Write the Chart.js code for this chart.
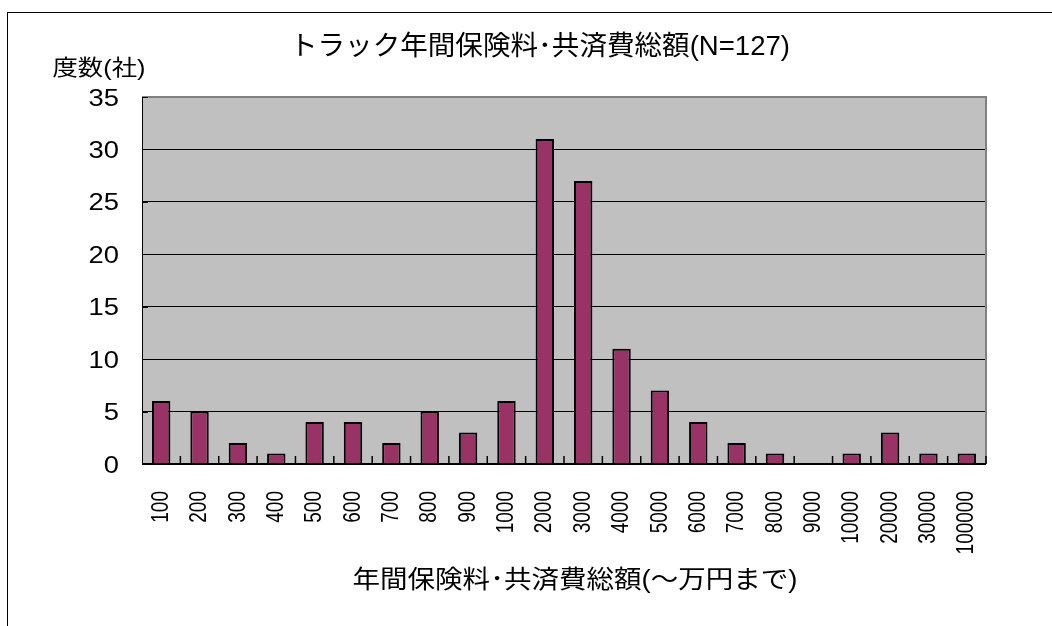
<!DOCTYPE html>
<html>
<head>
<meta charset="utf-8">
<script src="https://cdn.jsdelivr.net/npm/chart.js@4.4.1/dist/chart.umd.min.js"></script>
<style>
  html, body { margin: 0; padding: 0; background: #fff; }
  #wrap { position: relative; width: 1052px; height: 626px; overflow: hidden; }
  #frame { position: absolute; left: 7px; top: 12px; width: 1200px; height: 800px;
           border-left: 1px solid #000; border-top: 1px solid #000; }
  canvas { position: absolute; left: 0; top: 0; }
</style>
</head>
<body>
<div id="wrap">
  <div id="frame"></div>
  <canvas id="chart" width="1052" height="626"></canvas>
</div>
<script>
const categories = ['100', '200', '300', '400', '500', '600', '700', '800', '900', '1000',
  '2000', '3000', '4000', '5000', '6000', '7000', '8000', '9000', '10000', '20000', '30000', '100000']
const counts = [6, 5, 2, 1, 4, 4, 2, 5, 3, 6, 31, 27, 11, 7, 4, 2, 1, 0, 1, 3, 1, 1]
const yMax = 35
const yStep = 5

const chartTitle = 'トラック年間保険料･共済費総額(N=127)'
const yTitle = '度数(社)'
const xTitle = '年間保険料･共済費総額(～万円まで)'

const FONT = '"Liberation Sans", Arial, "Noto Sans CJK JP", sans-serif'

// text squeezed or widened horizontally to a given width, centred on (cx, cy)
function fitText(ctx, text, cx, cy, size, width) {
  ctx.save()
  ctx.font = size + 'px ' + FONT
  ctx.textAlign = 'center'
  ctx.textBaseline = 'middle'
  const sx = width / ctx.measureText(text).width
  ctx.translate(cx, cy)
  ctx.scale(sx, 1)
  ctx.fillText(text, 0, 0)
  ctx.restore()
}

const plotFrame = {
  id: 'plotFrame',
  beforeDraw(chart) {
    const { ctx, chartArea: a } = chart
    ctx.save()
    ctx.fillStyle = '#c0c0c0'
    ctx.fillRect(a.left, a.top, a.right - a.left, a.bottom - a.top)
    ctx.restore()
  },
  afterDatasetsDraw(chart) {
    const { ctx, chartArea: a } = chart
    const xs = chart.scales.x
    const ys = chart.scales.y
    ctx.save()
    // grey top/right edges, dark left edge
    ctx.strokeStyle = '#808080'
    ctx.lineWidth = 2
    ctx.beginPath()
    ctx.moveTo(a.left, a.top)
    ctx.lineTo(a.right, a.top)
    ctx.lineTo(a.right, a.bottom)
    ctx.stroke()
    ctx.strokeStyle = '#000'
    ctx.lineWidth = 1
    ctx.beginPath()
    ctx.moveTo(a.left + 0.5, a.top)
    ctx.lineTo(a.left + 0.5, a.bottom)
    ctx.stroke()
    // small inside ticks on the value axis
    ys.ticks.forEach((t, i) => {
      const y = Math.round(ys.getPixelForTick(i)) + 0.5
      ctx.beginPath()
      ctx.moveTo(a.left, y)
      ctx.lineTo(a.left + 6, y)
      ctx.stroke()
    })
    // category axis line with ticks between the categories
    ctx.lineWidth = 2
    ctx.beginPath()
    ctx.moveTo(a.left, ys.getPixelForValue(0))
    ctx.lineTo(a.right, ys.getPixelForValue(0))
    ctx.stroke()
    ctx.lineWidth = 1.5
    for (let i = 1; i <= categories.length; i++) {
      const x = i < categories.length
        ? (xs.getPixelForValue(i - 1) + xs.getPixelForValue(i)) / 2
        : a.right
      ctx.beginPath()
      ctx.moveTo(x, a.bottom)
      ctx.lineTo(x, a.bottom - 8)
      ctx.stroke()
    }
    ctx.restore()
  },
  afterDraw(chart) {
    const { ctx, chartArea: a } = chart
    const xs = chart.scales.x
    const ys = chart.scales.y
    ctx.save()
    ctx.fillStyle = '#000'

    // value labels, widened like the rest of the sheet
    ctx.font = '24px ' + FONT
    ctx.textAlign = 'right'
    ctx.textBaseline = 'middle'
    ys.ticks.forEach((t, i) => {
      const y = ys.getPixelForTick(i) + 2
      ctx.save()
      ctx.translate(119, y)
      ctx.scale(1.14, 1)
      ctx.fillText(String(t.value), 0, 0)
      ctx.restore()
    })

    // category labels, turned to read upwards
    ctx.font = '20px ' + FONT
    categories.forEach((c, i) => {
      const x = xs.getPixelForValue(i)
      ctx.save()
      ctx.translate(x, a.bottom + 27)
      ctx.rotate(-Math.PI / 2)
      ctx.scale(0.95, 1.2)
      ctx.textAlign = 'right'
      ctx.textBaseline = 'middle'
      ctx.fillText(c, 0, 0)
      ctx.restore()
    })

    fitText(ctx, chartTitle, 540, 48, 27, 500)
    fitText(ctx, yTitle, 99, 69, 22, 93)
    fitText(ctx, xTitle, 575, 581, 25, 445)
    ctx.restore()
  }
}

new Chart(document.getElementById('chart'), {
  type: 'bar',
  data: {
    labels: categories,
    datasets: [{
      data: counts,
      backgroundColor: '#993366',
      borderColor: '#000',
      borderWidth: 2,
      barPercentage: 0.48,
      categoryPercentage: 1
    }]
  },
  options: {
    responsive: false,
    animation: false,
    devicePixelRatio: 1,
    layout: { padding: { left: 0, top: 97, right: 66, bottom: 0 } },
    plugins: {
      legend: { display: false },
      title: { display: false },
      tooltip: { enabled: false }
    },
    scales: {
      x: {
        offset: true,
        grid: { display: false },
        border: { display: false },
        ticks: { display: false },
        afterFit(scale) { scale.height = 162 }
      },
      y: {
        min: 0,
        max: yMax,
        ticks: { stepSize: yStep, display: false },
        grid: {
          color: ctx => ctx.tick.value === yMax ? '#808080' : '#000',
          lineWidth: 1,
          drawTicks: false
        },
        border: { display: false },
        afterFit(scale) { scale.width = 142 }
      }
    }
  },
  plugins: [plotFrame]
})
</script>
</body>
</html>
